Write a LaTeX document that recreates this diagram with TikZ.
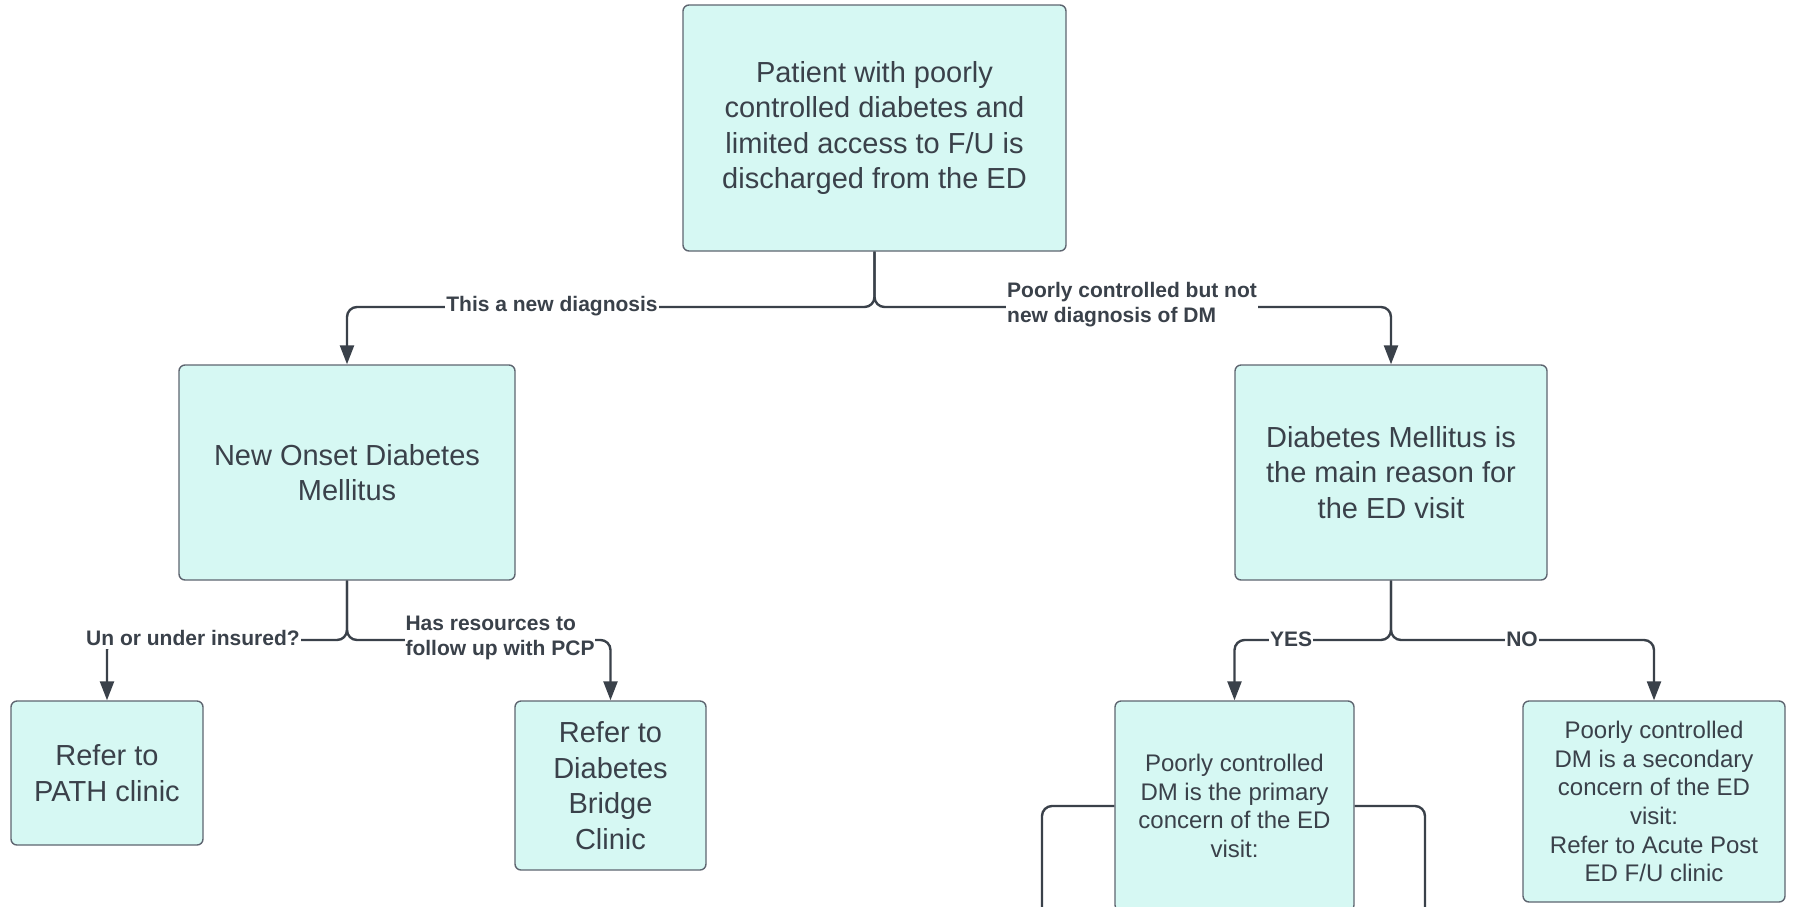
\documentclass[tikz,border=0pt]{standalone}
\usepackage{fontspec}
\setmainfont{Liberation Sans}
\usetikzlibrary{arrows.meta}
\definecolor{boxfill}{HTML}{D6F8F3}
\definecolor{boxline}{HTML}{5E6570}
\definecolor{ink}{HTML}{3A414A}

\begin{document}
\begin{tikzpicture}[x=1pt,y=-1pt,
  box/.style={draw=boxline,fill=boxfill,line width=1.4pt,rounded corners=6pt,align=center,text=ink,inner sep=0pt,font=\fontsize{29}{35.5}\selectfont},
  smallbox/.style={box,font=\fontsize{24}{28.7}\selectfont},
  wire/.style={draw=ink,line width=2.4pt,rounded corners=10pt},
  conn/.style={wire,-{Triangle[length=19pt,width=14pt]}},
  lbl/.style={fill=white,text=ink,inner xsep=1pt,inner ysep=3pt,font=\bfseries\fontsize{21}{25.2}\selectfont}]
\useasboundingbox (0,0) rectangle (1798,906);
\clip (0,0) rectangle (1798,906);

\node[box,minimum width=383pt,minimum height=246pt] (top) at (874.5,128) {Patient with poorly\\controlled diabetes and\\limited access to F/U is\\discharged from the ED};
\node[box,minimum width=336pt,minimum height=215pt] (onset) at (347,472.5) {New Onset Diabetes\\Mellitus};
\node[box,minimum width=312pt,minimum height=215pt] (dmmain) at (1391,472.5) {Diabetes Mellitus is\\the main reason for\\the ED visit};

\node[box,minimum width=192pt,minimum height=144pt] (pathclinic) at (107,773) {Refer to\\PATH clinic};
\node[box,minimum width=191pt,minimum height=169pt] (bridge) at (610.5,785.5) {Refer to\\Diabetes\\Bridge\\Clinic};
\node[smallbox,minimum width=239pt,minimum height=210pt] (primary) at (1234.5,806) {Poorly controlled\\DM is the primary\\concern of the ED\\visit:};
\node[smallbox,minimum width=262pt,minimum height=201pt] (secondary) at (1654,801.5) {Poorly controlled\\DM is a secondary\\concern of the ED\\visit:\\Refer to Acute Post\\ED F/U clinic};

\coordinate (j1) at (874.5,307);
\coordinate (j2) at (347,640);
\coordinate (j3) at (1391,640);
\foreach \from/\via/\to in {top/j1/onset,top/j1/dmmain,onset/j2/pathclinic,onset/j2/bridge,dmmain/j3/primary,dmmain/j3/secondary}
\draw[conn] (\from.south) -- (\via) -| (\to.north);

% lines leaving the page
\coordinate (pl) at (1042,940);
\coordinate (pr) at (1425,940);
\draw[wire] (primary.west) -| (pl);
\draw[wire] (primary.east) -| (pr);

\node[lbl] (newdx) at (552,306) {This a new diagnosis};
\node[lbl,align=left] (olddx) at (1132,305) {Poorly controlled but not\\new diagnosis of DM};
\node[lbl] (uninsured) at (193,638) {Un or under insured?};
\node[lbl,align=left] (resources) at (500,638) {Has resources to\\follow up with PCP};
\node[lbl] (yes) at (1291,639) {YES};
\node[lbl] (no) at (1522,639) {NO};
\end{tikzpicture}
\end{document}
